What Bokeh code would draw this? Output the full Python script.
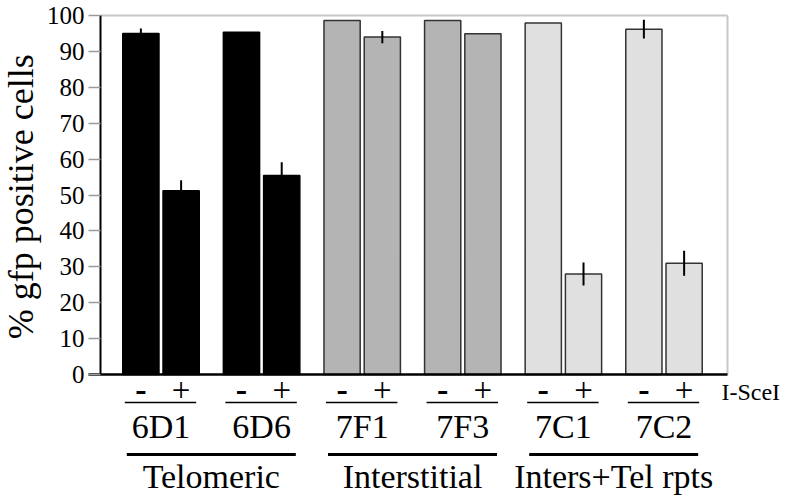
import math
from bokeh.plotting import figure
from bokeh.models import Range1d, FixedTicker, ColumnDataSource
from bokeh.core.properties import value
from bokeh.embed import file_html
from bokeh.resources import INLINE

# ---- data ----
groups = ["Telomeric", "Interstitial", "Inters+Tel rpts"]
group_colors = ["#000000", "#b4b4b4", "#e0e0e0"]
clones = ["6D1", "6D6", "7F1", "7F3", "7C1", "7C2"]
clone_group = [0, 0, 1, 1, 2, 2]
minus_vals = [95.0, 95.3, 98.6, 98.6, 97.9, 96.2]
plus_vals = [51.2, 55.4, 94.0, 94.9, 28.0, 31.0]
minus_err = [1.4, 0.0, 0.0, 0.0, 0.0, 2.6]
plus_err = [2.9, 3.7, 1.7, 0.0, 3.2, 3.5]
sign_labels = ["-", "+"]
treatment_label = "I-SceI"
y_label = "% gfp positive cells"
y_ticks = [0, 10, 20, 30, 40, 50, 60, 70, 80, 90, 100]

FONT = value("Liberation Serif")

# ---- layout constants ----
W, H = 784, 495
AXIS_PX = 100                   # pixel column of the y axis
PX_X = 100.6
PX_Y = 3.59
X0 = -60.5 / PX_X               # data x at the y axis
XL = X0 - AXIS_PX / PX_X        # data x at the canvas left edge
X1 = XL + W / PX_X
XR = X0 + 627 / PX_X            # right border of plot box
Y0 = -(H - 374) / PX_Y
Y1 = 100 + 15 / PX_Y
OFF = 0.2
BW = 0.36


def px_to_x(px):
    return XL + px / PX_X


p = figure(width=W, height=H, output_backend="svg", toolbar_location=None,
           x_range=Range1d(XL, X1), y_range=Range1d(Y0, Y1),
           x_axis_location=None, min_border_left=0, min_border_right=0,
           min_border_top=0, min_border_bottom=0)
p.outline_line_color = None
p.xgrid.visible = False
p.ygrid.visible = False
p.background_fill_color = "white"
p.border_fill_color = "white"

ax = p.yaxis[0]
ax.fixed_location = X0
ax.ticker = FixedTicker(ticks=y_ticks)
ax.bounds = (0, 100)
ax.axis_line_color = "black"
ax.axis_line_width = 2
ax.major_tick_out = 12
ax.major_tick_in = 0
ax.minor_tick_line_color = None
ax.major_tick_line_color = "#9a9a9a"
ax.major_tick_line_width = 1.5
ax.major_label_text_alpha = 0
ax.major_label_text_font_size = "0px"

# tick labels and axis title in a serif face
p.text(x=[px_to_x(84)] * len(y_ticks), y=y_ticks, text=[str(t) for t in y_ticks],
       text_font=FONT, text_font_size=value("25px"), text_align="right",
       text_baseline="middle", text_color="black")
p.text(x=[px_to_x(20)], y=[49.5], text=[y_label], text_font=FONT,
       text_font_size=value("36px"), text_align="center",
       text_baseline="middle", angle=math.pi / 2, text_color="black")

# ---- bars ----
xs, tops, fills, lines, errs = [], [], [], [], []
for i in range(len(clones)):
    g = clone_group[i]
    for sgn, v, e in ((-1, minus_vals[i], minus_err[i]), (1, plus_vals[i], plus_err[i])):
        xs.append(i + sgn * OFF)
        tops.append(v)
        fills.append(group_colors[g])
        lines.append("#000000" if g == 0 else "#333333")
        errs.append(e)

src = ColumnDataSource(dict(x=xs, top=tops, fill=fills, line=lines))
p.vbar(x="x", top="top", bottom=0, width=BW, fill_color="fill",
       line_color="line", line_width=1.5, source=src)

esrc = ColumnDataSource(dict(x=[x for x, e in zip(xs, errs) if e > 0],
                             lo=[t - e for t, e in zip(tops, errs) if e > 0],
                             hi=[t + e for t, e in zip(tops, errs) if e > 0]))
p.segment(x0="x", y0="lo", x1="x", y1="hi", line_color="black",
          line_width=2, source=esrc)

# ---- frame lines ----
p.segment(x0=[X0, XR], y0=[100, 0], x1=[XR, XR], y1=[100, 100],
          line_color="#c8c8c8", line_width=2)
p.segment(x0=[px_to_x(88)], y0=[0], x1=[XR], y1=[0], line_color="black",
          line_width=2.5)

# ---- sign row ----
n = len(clones)
p.text(x=[i - OFF for i in range(n)], y=[-4.3] * n, text=[sign_labels[0]] * n,
       text_font=FONT, text_font_size=value("34px"), text_font_style="bold",
       text_align="center", text_baseline="middle", text_color="black")
p.text(x=[i + OFF for i in range(n)], y=[-4.4] * n, text=[sign_labels[1]] * n,
       text_font=FONT, text_font_size=value("33px"),
       text_align="center", text_baseline="middle", text_color="black")
p.text(x=[XR - 0.06], y=[-4.9], text=[treatment_label], text_font=FONT,
       text_font_size=value("24px"), text_align="left",
       text_baseline="middle", text_color="black")

# pair lines
p.segment(x0=[i - 0.36 for i in range(n)], y0=[-7.8] * n,
          x1=[i + 0.35 for i in range(n)], y1=[-7.8] * n,
          line_color="black", line_width=1.5)

# clone labels
p.text(x=list(range(n)), y=[-14.6] * n, text=clones, text_font=FONT,
       text_font_size=value("34px"), text_align="center",
       text_baseline="middle", text_color="black")

# group lines and labels
gx0, gx1, gxc = [], [], []
for g in range(len(groups)):
    members = [i for i in range(n) if clone_group[i] == g]
    gx0.append(min(members) - 0.34)
    gx1.append(max(members) + 0.34)
    gxc.append((min(members) + max(members)) / 2)
p.segment(x0=gx0, y0=[-22.3] * len(groups), x1=gx1, y1=[-22.3] * len(groups),
          line_color="black", line_width=3)
p.text(x=gxc, y=[-28.4] * len(groups), text=groups, text_font=FONT,
       text_font_size=value("34px"), text_align="center",
       text_baseline="middle", text_color="black")

open("out.html", "w").write(file_html(p, INLINE))
